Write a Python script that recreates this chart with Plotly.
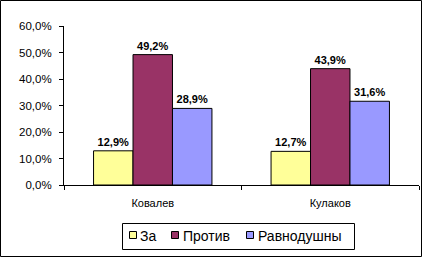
import plotly.graph_objects as go

categories = ["Ковалев", "Кулаков"]
series_names = ["За", "Против", "Равнодушны"]
za = [0.129, 0.127]
protiv = [0.492, 0.439]
ravn = [0.289, 0.316]
colors = ["#FFFF99", "#993366", "#9999FF"]
yticks = [0, 0.1, 0.2, 0.3, 0.4, 0.5, 0.6]

FONT = "Liberation Sans, Arial, sans-serif"

fig = go.Figure()
for name, vals, col in zip(series_names, [za, protiv, ravn], colors):
    fig.add_trace(go.Bar(
        x=categories, y=vals, name=name, showlegend=False,
        marker=dict(color=col, line=dict(color="black", width=1)),
        texttemplate="<b>%{y:.1%}</b>", textposition="outside",
        textfont=dict(family=FONT, size=11, color="black"),
        cliponaxis=False,
    ))

L, R, T, B = 64, 4, 26, 73
W, H = 423, 258
pw, ph = W - L - R, H - T - B

def px(x):
    return (x - L) / pw

def py(y):
    return (H - B - y) / ph

# outer chart border
fig.add_shape(type="rect", xref="paper", yref="paper",
              x0=px(0.5), x1=px(421.5), y0=py(0.5), y1=py(256.5),
              line=dict(color="black", width=1), fillcolor="rgba(0,0,0,0)", layer="above")

# legend box
fig.add_shape(type="rect", xref="paper", yref="paper",
              x0=px(122.5), x1=px(354.5), y0=py(223.5), y1=py(249.5),
              line=dict(color="black", width=1), fillcolor="white", layer="above")
sq_x = [129.5, 171.5, 246.5]
tx_x = [138, 181, 256]
for name, col, sx, tx in zip(series_names, colors, sq_x, tx_x):
    fig.add_shape(type="rect", xref="paper", yref="paper",
                  x0=px(sx), x1=px(sx + 7), y0=py(231.5), y1=py(238.5),
                  line=dict(color="black", width=1), fillcolor=col, layer="above")
    fig.add_annotation(xref="paper", yref="paper", x=px(tx), y=py(235.5),
                       xanchor="left", yanchor="middle", text=name, showarrow=False,
                       font=dict(family=FONT, size=14, color="black"))

fig.update_layout(
    width=W, height=H,
    margin=dict(l=L, r=R, t=T, b=B, pad=0),
    paper_bgcolor="white", plot_bgcolor="white",
    separators=", ",
    barmode="group", bargap=0.333, bargroupgap=0,
    font=dict(family=FONT, size=11, color="black"),
    showlegend=False,
    xaxis=dict(showline=True, linecolor="black", linewidth=1, ticks="outside", ticklen=4,
               tickcolor="black", tickson="boundaries", showgrid=False, tickfont=dict(size=11),
               ticklabelstandoff=8, fixedrange=True),
    yaxis=dict(range=[0, 0.6], tickvals=yticks, tickformat=".1%", showline=True, linecolor="black",
               linewidth=1, ticks="outside", ticklen=4, tickcolor="black", showgrid=False,
               zeroline=False, tickfont=dict(size=11.5), ticklabelstandoff=5, fixedrange=True),
)

fig.write_html("out.html")
